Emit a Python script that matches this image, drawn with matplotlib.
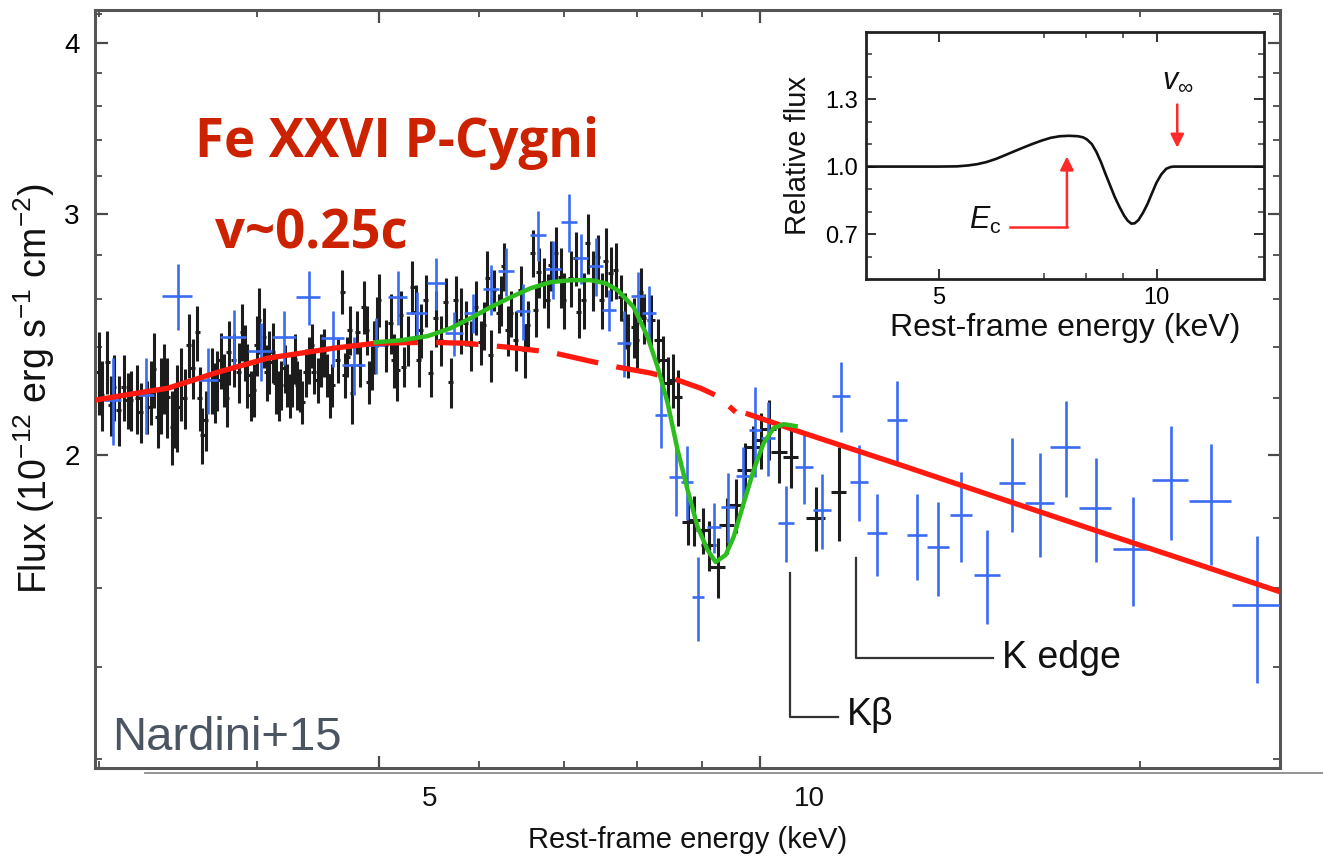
import matplotlib
matplotlib.use('Agg')
import matplotlib.pyplot as plt
from matplotlib.ticker import FixedLocator, NullFormatter, FixedFormatter
from matplotlib.lines import Line2D

plt.rcParams['font.family'] = ['Liberation Sans', 'DejaVu Sans']
plt.rcParams['mathtext.fontset'] = 'custom'
plt.rcParams['mathtext.rm'] = 'Liberation Sans'
plt.rcParams['mathtext.it'] = 'Liberation Sans:italic'
plt.rcParams['mathtext.bf'] = 'Liberation Sans:bold'

# ---------------- data ----------------
# XMM-Newton (black) spectrum: energy (keV), flux, flux error, half bin width
xmm_E = [3.001, 3.047, 3.084, 3.141, 3.180, 3.219, 3.278, 3.317, 3.358, 3.399,
         3.430, 3.462, 3.483, 3.536, 3.590, 3.623, 3.690, 3.724, 3.769, 3.803,
         3.838, 3.897, 3.932, 3.981, 4.017, 4.054, 4.091, 4.141, 4.179, 4.230,
         4.269, 4.308, 4.347, 4.400, 4.440, 4.495, 4.550, 4.591, 4.676, 4.719,
         4.762, 4.805, 4.864, 4.908, 4.953, 4.998, 5.106, 5.169, 5.228, 5.312,
         5.344, 5.393, 5.492, 5.542, 5.644, 5.696, 5.800, 5.853, 5.961, 6.015,
         6.089, 6.160, 6.216, 6.273, 6.354, 6.412, 6.553, 6.613, 6.686, 6.747,
         6.834, 6.896, 6.959, 7.087, 7.191, 7.310, 7.444, 7.554, 7.623, 7.763,
         7.863, 7.949, 8.051, 8.095, 8.304, 8.457, 8.612, 8.771, 9.014, 9.263,
         9.572, 9.873, 10.165, 10.581, 11.074, 11.548,
         3.016, 3.066, 3.111, 3.162, 3.238, 3.298, 3.340, 3.377, 3.445, 3.508,
         3.560, 3.605, 3.645, 3.705, 3.746, 3.787, 3.871, 3.913, 3.956, 4.000,
         4.073, 4.118, 4.164, 4.209, 4.248, 4.287, 4.326, 4.373, 4.422, 4.470,
         4.519, 4.569, 4.636, 4.695, 4.738, 4.825, 4.888, 4.932, 4.977, 5.059,
         5.134, 5.200, 5.267, 5.373, 5.442, 5.593, 5.748, 5.907, 6.048, 6.126,
         6.239, 6.319, 6.470, 6.518, 6.649, 6.796, 6.997, 7.152, 7.257, 7.377,
         7.499, 7.693, 7.820, 7.993, 8.199, 8.380, 8.534, 8.867, 9.113, 9.417,
         9.731, 10.018, 10.352]
xmm_F = [2.301, 2.340, 2.243, 2.243, 2.194, 2.200, 2.169, 2.311, 2.212, 2.206,
         2.097, 2.169, 2.257, 2.406, 2.458, 2.068, 2.269, 2.269, 2.269, 2.379,
         2.346, 2.460, 2.288, 2.231, 2.509, 2.440, 2.340, 2.257, 2.250, 2.250,
         2.269, 2.250, 2.187, 2.346, 2.301, 2.346, 2.288, 2.250, 2.632, 2.359,
         2.219, 2.460, 2.566, 2.262, 2.399, 2.595, 2.497, 2.307, 2.319, 2.654,
         2.543, 2.468, 2.296, 2.518, 2.586, 2.261, 2.509, 2.497, 2.565, 2.418,
         2.693, 2.639, 2.539, 2.748, 2.539, 2.426, 2.488, 2.809, 2.720, 2.675,
         2.752, 2.809, 2.697, 2.693, 2.543, 2.856, 2.790, 2.770, 2.716, 2.608,
         2.406, 2.480, 2.630, 2.518, 2.426, 2.257, 2.205, 1.787, 1.763, 1.657,
         1.839, 2.027, 2.089, 1.993, 1.799, 1.879,
         2.212, 2.175, 2.157, 2.194, 2.150, 2.223, 2.132, 2.276, 2.139, 2.200,
         2.315, 2.200, 2.121, 2.223, 2.346, 2.200, 2.299, 2.378, 2.212, 2.406,
         2.299, 2.378, 2.212, 2.315, 2.212, 2.352, 2.231, 2.299, 2.406, 2.269,
         2.378, 2.212, 2.346, 2.288, 2.468, 2.327, 2.468, 2.327, 2.502, 2.406,
         2.346, 2.531, 2.426, 2.346, 2.595, 2.426, 2.595, 2.406, 2.488, 2.366,
         2.595, 2.468, 2.639, 2.386, 2.552, 2.595, 2.595, 2.785, 2.595, 2.684,
         2.595, 2.730, 2.509, 2.426, 2.509, 2.346, 2.269, 1.793, 1.719, 1.778,
         1.950, 2.051, 2.010]
xmm_Ferr = [0.161, 0.125, 0.124, 0.124, 0.111, 0.129, 0.097, 0.146, 0.141, 0.148,
            0.129, 0.157, 0.139, 0.128, 0.114, 0.098, 0.126, 0.114, 0.102, 0.127,
            0.105, 0.117, 0.122, 0.100, 0.140, 0.123, 0.125, 0.114, 0.094, 0.082,
            0.102, 0.094, 0.080, 0.092, 0.084, 0.105, 0.083, 0.082, 0.096, 0.079,
            0.112, 0.090, 0.115, 0.082, 0.108, 0.116, 0.126, 0.116, 0.078, 0.119,
            0.120, 0.112, 0.089, 0.118, 0.109, 0.095, 0.139, 0.096, 0.116, 0.089,
            0.127, 0.089, 0.085, 0.111, 0.098, 0.122, 0.105, 0.109, 0.114, 0.112,
            0.116, 0.127, 0.136, 0.127, 0.107, 0.144, 0.108, 0.160, 0.123, 0.101,
            0.129, 0.125, 0.110, 0.106, 0.090, 0.102, 0.104, 0.066, 0.068, 0.084,
            0.083, 0.075, 0.105, 0.100, 0.097, 0.148,
            0.130, 0.110, 0.127, 0.103, 0.108, 0.120, 0.107, 0.134, 0.115, 0.111,
            0.117, 0.118, 0.107, 0.112, 0.110, 0.103, 0.116, 0.112, 0.093, 0.121,
            0.108, 0.120, 0.093, 0.093, 0.082, 0.099, 0.082, 0.093, 0.089, 0.084,
            0.096, 0.082, 0.087, 0.085, 0.100, 0.086, 0.100, 0.094, 0.105, 0.105,
            0.106, 0.106, 0.102, 0.102, 0.113, 0.102, 0.109, 0.101, 0.100, 0.103,
            0.109, 0.104, 0.111, 0.108, 0.111, 0.118, 0.122, 0.126, 0.122, 0.135,
            0.122, 0.128, 0.118, 0.114, 0.110, 0.099, 0.103, 0.075, 0.072, 0.084,
            0.092, 0.096, 0.101]
xmm_Eerr = [0.014, 0.014, 0.014, 0.014, 0.014, 0.015, 0.015, 0.015, 0.015, 0.015,
            0.016, 0.016, 0.016, 0.016, 0.016, 0.016, 0.017, 0.017, 0.017, 0.017,
            0.017, 0.018, 0.018, 0.018, 0.018, 0.018, 0.019, 0.019, 0.019, 0.019,
            0.019, 0.020, 0.020, 0.020, 0.020, 0.020, 0.021, 0.021, 0.021, 0.021,
            0.022, 0.022, 0.022, 0.022, 0.023, 0.023, 0.023, 0.024, 0.024, 0.024,
            0.024, 0.025, 0.025, 0.025, 0.026, 0.026, 0.026, 0.027, 0.027, 0.027,
            0.028, 0.028, 0.028, 0.029, 0.029, 0.029, 0.030, 0.030, 0.030, 0.031,
            0.031, 0.031, 0.032, 0.032, 0.033, 0.033, 0.034, 0.034, 0.035, 0.035,
            0.036, 0.036, 0.037, 0.037, 0.060, 0.060, 0.070, 0.090, 0.110, 0.130,
            0.130, 0.140, 0.140, 0.150, 0.200, 0.160,
            0.014, 0.014, 0.014, 0.015, 0.015, 0.015, 0.015, 0.015, 0.016, 0.016,
            0.016, 0.016, 0.017, 0.017, 0.017, 0.017, 0.018, 0.018, 0.018, 0.018,
            0.019, 0.019, 0.019, 0.019, 0.019, 0.020, 0.020, 0.020, 0.020, 0.020,
            0.021, 0.021, 0.021, 0.021, 0.022, 0.022, 0.022, 0.022, 0.023, 0.023,
            0.023, 0.024, 0.024, 0.024, 0.025, 0.025, 0.026, 0.027, 0.028, 0.028,
            0.029, 0.029, 0.029, 0.030, 0.030, 0.031, 0.032, 0.033, 0.033, 0.034,
            0.034, 0.035, 0.036, 0.036, 0.060, 0.060, 0.070, 0.100, 0.120, 0.130,
            0.140, 0.140, 0.150]

# NuSTAR (blue) spectrum
nu_E = [3.077, 3.268, 3.464, 3.661, 3.836, 4.029, 4.202, 4.397, 4.594, 4.773,
        4.968, 5.171, 5.353, 5.542, 5.727, 5.929, 6.126, 6.296, 6.494, 6.674,
        6.859, 7.062, 7.217, 7.417, 7.595, 7.805, 8.007, 8.170, 8.350, 8.581,
        8.755, 8.932, 9.196, 9.434, 9.695, 9.909, 10.147, 10.485, 10.835, 11.195,
        11.590, 11.976, 12.375, 12.835, 13.311, 13.830, 14.423, 15.121, 15.826, 16.654,
        17.462, 18.443, 19.728, 21.143, 22.741, 24.730]
nu_F = [2.194, 2.212, 2.613, 2.269, 2.439, 2.382, 2.439, 2.608, 2.435, 2.327,
        2.406, 2.608, 2.539, 2.670, 2.455, 2.539, 2.644, 2.725, 2.548, 2.895,
        2.734, 2.959, 2.785, 2.748, 2.552, 2.414, 2.613, 2.539, 2.139, 1.927,
        1.911, 1.575, 1.772, 1.833, 1.931, 2.086, 2.058, 1.784, 1.960, 1.823,
        2.209, 1.911, 1.754, 2.121, 1.748, 1.713, 1.808, 1.635, 1.908, 1.845,
        2.027, 1.830, 1.708, 1.918, 1.851, 1.554]
nu_Ferr = [0.159, 0.141, 0.145, 0.126, 0.115, 0.116, 0.111, 0.118, 0.115, 0.113,
           0.113, 0.118, 0.094, 0.117, 0.091, 0.085, 0.111, 0.110, 0.120, 0.122,
           0.133, 0.144, 0.117, 0.134, 0.086, 0.134, 0.110, 0.119, 0.115, 0.120,
           0.119, 0.111, 0.074, 0.108, 0.097, 0.158, 0.128, 0.114, 0.119, 0.116,
           0.130, 0.122, 0.121, 0.146, 0.126, 0.135, 0.137, 0.129, 0.151, 0.161,
           0.163, 0.160, 0.155, 0.184, 0.187, 0.191]
nu_Eerr = [0.045, 0.048, 0.095, 0.067, 0.091, 0.088, 0.092, 0.096, 0.100, 0.096,
           0.090, 0.094, 0.098, 0.091, 0.094, 0.097, 0.089, 0.092, 0.083, 0.097,
           0.100, 0.103, 0.092, 0.095, 0.097, 0.100, 0.102, 0.104, 0.091, 0.109,
           0.096, 0.098, 0.117, 0.120, 0.124, 0.108, 0.129, 0.153, 0.178, 0.184,
           0.190, 0.196, 0.225, 0.234, 0.242, 0.277, 0.289, 0.358, 0.375, 0.425,
           0.477, 0.538, 0.683, 0.693, 0.870, 1.081]

# continuum model (red): solid low-energy part, dashed under the line, solid high-energy part
cont_lo_E = [2.983, 3.180, 3.401, 3.726, 4.081, 4.602, 4.968]
cont_lo_F = [2.194, 2.216, 2.238, 2.299, 2.354, 2.394, 2.414]
cont_mid_E = [4.968, 5.462, 5.853, 6.319, 6.834, 7.350, 7.721, 8.199, 8.612, 8.981, 9.229, 9.399, 9.572]
cont_mid_F = [2.414, 2.418, 2.414, 2.398, 2.378, 2.342, 2.319, 2.296, 2.269, 2.238, 2.212, 2.183, 2.150]
cont_hi_E = [9.748, 10.775, 12.930, 15.512, 18.612, 22.331, 25.834]
cont_hi_F = [2.146, 2.079, 1.967, 1.859, 1.757, 1.662, 1.589]

# P-Cygni model (green)
pcyg_E = [4.968, 5.200, 5.462, 5.696, 5.907, 6.126, 6.354, 6.589, 6.834, 7.087,
          7.350, 7.554, 7.721, 7.949, 8.155, 8.304, 8.457, 8.612, 8.771, 8.932,
          9.096, 9.229, 9.399, 9.537, 9.713, 9.891, 10.073, 10.258, 10.447, 10.678]
pcyg_F = [2.418, 2.426, 2.443, 2.476, 2.518, 2.565, 2.608, 2.648, 2.675, 2.684,
          2.684, 2.670, 2.639, 2.565, 2.439, 2.319, 2.183, 2.017, 1.886, 1.772,
          1.705, 1.671, 1.691, 1.743, 1.845, 1.950, 2.041, 2.093, 2.107, 2.100]

# inset: relative P-Cygni profile
ins_E = [4.0, 5.0, 5.3, 5.49, 5.66, 5.82, 6.0, 6.17, 6.35, 6.54, 6.73, 6.93, 7.14,
         7.35, 7.57, 7.79, 7.92, 8.02, 8.14, 8.26, 8.38, 8.50, 8.63, 8.76, 8.89,
         9.02, 9.12, 9.23, 9.33, 9.44, 9.58, 9.72, 9.86, 10.0, 10.15, 10.31, 10.45,
         10.56, 14.05]
ins_R = [1.0, 1.0, 1.001, 1.005, 1.011, 1.02, 1.034, 1.05, 1.067, 1.084, 1.10, 1.115,
         1.128, 1.135, 1.137, 1.135, 1.13, 1.12, 1.10, 1.065, 1.02, 0.968, 0.915,
         0.863, 0.82, 0.782, 0.76, 0.746, 0.748, 0.762, 0.795, 0.835, 0.883, 0.929,
         0.965, 0.99, 0.998, 1.0, 1.0]

# annotation positions (keV, flux)
kedge_E, kbeta_E = 11.91, 10.57
xticks_main = [5, 10]
xtick_labels_main = ['5', '10']
yticks_main = [2, 3, 4]
ytick_labels_main = ['2', '3', '4']

# ---------------- figure ----------------
W, H = 1323, 864
fig = plt.figure(figsize=(W / 100, H / 100), dpi=100)
fig.patch.set_facecolor('white')

ax = fig.add_axes([95 / W, 1 - 768 / H, (1280 - 95) / W, (768 - 10) / H])
ax.set_xscale('log')
ax.set_yscale('log')
ax.set_xlim(2.98, 25.8)
ax.set_ylim(1.182, 4.227)

black = '#1c1c1c'
blue = '#3a6cf2'
red = '#ff1a10'
green = '#2ebd1e'

ax.errorbar(xmm_E, xmm_F, yerr=xmm_Ferr, xerr=xmm_Eerr, fmt='none',
            ecolor=black, elinewidth=2.2, capsize=0, zorder=2)
ax.errorbar(nu_E, nu_F, yerr=nu_Ferr, xerr=nu_Eerr, fmt='none',
            ecolor=blue, elinewidth=1.9, capsize=0, zorder=3)

ax.plot(cont_lo_E, cont_lo_F, color=red, lw=3.8, solid_capstyle='butt', zorder=5)
ax.plot(cont_mid_E, cont_mid_F, color=red, lw=3.8, dashes=(8, 3.5), zorder=5)
ax.plot(cont_hi_E, cont_hi_F, color=red, lw=3.8, solid_capstyle='butt', zorder=5)
ax.plot(pcyg_E, pcyg_F, color=green, lw=3.2, zorder=6)

# ticks
ax.xaxis.set_major_locator(FixedLocator(xticks_main))
ax.xaxis.set_minor_locator(FixedLocator([3, 4, 6, 7, 8, 9, 20]))
ax.xaxis.set_major_formatter(NullFormatter())
ax.xaxis.set_minor_formatter(NullFormatter())
ax.yaxis.set_major_locator(FixedLocator(yticks_main))
ax.yaxis.set_major_formatter(FixedFormatter(ytick_labels_main))
ax.yaxis.set_minor_locator(FixedLocator([1.2, 1.4, 1.6, 1.8, 2.2, 2.4, 2.6, 2.8,
                                         3.2, 3.4, 3.6, 3.8, 4.2]))
ax.yaxis.set_minor_formatter(NullFormatter())
ax.tick_params(which='both', direction='in', top=True, right=True, color='#4a4a4a')
ax.tick_params(which='major', length=9, width=1.6, labelsize=20, pad=11)
ax.tick_params(which='minor', length=5, width=1.3)
for s in ax.spines.values():
    s.set_color('#555555')
    s.set_linewidth(2.2)

# x tick labels (shifted to the right, as in the reference)
for v, lab in zip(xticks_main, xtick_labels_main):
    ax.annotate(lab, xy=(v, 0), xycoords=('data', 'axes fraction'),
                xytext=(36, -22), textcoords='offset points',
                ha='center', va='center', fontsize=20, color='#111111')

ax.set_xlabel('Rest-frame energy (keV)', fontsize=21, va='center', color='#111111')
ax.xaxis.set_label_coords(0.5, -0.095)
ax.set_ylabel(r'Flux (10$^{-12}$ erg s$^{-1}$ cm$^{-2}$)', fontsize=27,
              va='center', color='#111111')
ax.yaxis.set_label_coords(-0.051, 0.5)

# red annotations
ax.text(0.0844, 0.806, 'Fe XXVI P-Cygni', transform=ax.transAxes, ha='left',
        va='baseline', fontsize=38, fontweight='bold', color='#cc2200',
        family=['Open Sans', 'DejaVu Sans'])
ax.text(0.101, 0.686, 'v~0.25c', transform=ax.transAxes, ha='left',
        va='baseline', fontsize=38, fontweight='bold', color='#cc2200',
        family=['Open Sans', 'DejaVu Sans'])
ax.text(0.0143, 0.0237, 'Nardini+15', transform=ax.transAxes, ha='left',
        va='baseline', fontsize=34, color='#4b5561')

# K edge / K-beta brackets
bcol = '#333333'
ax.plot([kedge_E, kedge_E, 15.29], [1.682, 1.422, 1.422], color=bcol, lw=1.6, zorder=4)
ax.text(15.54, 1.398, 'K edge', fontsize=27, ha='left', va='baseline', color='#111111')
ax.plot([kbeta_E, kbeta_E, 11.54], [1.640, 1.288, 1.288], color=bcol, lw=1.6, zorder=4)
ax.text(11.73, 1.270, 'K\u03b2', fontsize=27, ha='left', va='baseline', color='#111111')

# stray horizontal rule below the frame (as in the slide)
fig.add_artist(Line2D([145 / W, 1.0], [1 - 773 / H, 1 - 773 / H],
                      transform=fig.transFigure, color='#8a8a8a', lw=1.3))

# ---------------- inset ----------------
axin = fig.add_axes([866 / W, 1 - 279 / H, (1263.5 - 866) / W, (279 - 31.7) / H])
axin.set_facecolor('white')
axin.set_xscale('log')
axin.set_xlim(3.97, 14.05)
axin.set_ylim(0.5, 1.6)
axin.plot(ins_E, ins_R, color='#111111', lw=1.9)
axin.xaxis.set_major_locator(FixedLocator([5, 10]))
axin.xaxis.set_major_formatter(FixedFormatter(['5', '10']))
axin.xaxis.set_minor_locator(FixedLocator([7, 8, 9]))
axin.xaxis.set_minor_formatter(NullFormatter())
axin.yaxis.set_major_locator(FixedLocator([0.7, 1.0, 1.3]))
axin.yaxis.set_major_formatter(FixedFormatter(['0.7', '1.0', '1.3']))
axin.yaxis.set_minor_locator(FixedLocator([0.6, 0.8, 0.9, 1.1, 1.2, 1.4, 1.5]))
axin.tick_params(which='both', direction='in', top=True, right=True, color='#333333')
axin.tick_params(which='major', length=7, width=1.4, labelsize=17, pad=6)
axin.tick_params(which='minor', length=4, width=1.1)
for s in axin.spines.values():
    s.set_color('#222222')
    s.set_linewidth(2.0)
axin.set_xlabel('Rest-frame energy (keV)', fontsize=23, va='center', color='#111111')
axin.xaxis.set_label_coords(0.5, -0.2)
axin.set_ylabel('Relative flux', fontsize=21, va='center', color='#111111')
axin.yaxis.set_label_coords(-0.17, 0.5)

acol = '#ff2a2a'
axin.plot([6.27, 7.52], [0.73, 0.73], color=acol, lw=1.8)
axin.annotate('', xy=(7.52, 1.045), xytext=(7.52, 0.73),
              arrowprops=dict(arrowstyle='-|>', color=acol, lw=1.8,
                              shrinkA=0, shrinkB=0, mutation_scale=20))
axin.annotate('', xy=(10.68, 1.084), xytext=(10.68, 1.276),
              arrowprops=dict(arrowstyle='-|>', color=acol, lw=1.8,
                              shrinkA=0, shrinkB=0, mutation_scale=20))
axin.text(6.10, 0.76, r'$E_{\mathrm{c}}$', fontsize=22, ha='right', va='center',
          color='#111111')
axin.text(10.69, 1.384, r'$v_{\infty}$', fontsize=22, ha='center', va='center',
          color='#111111')

fig.savefig('out.png', dpi=100, facecolor='white')
